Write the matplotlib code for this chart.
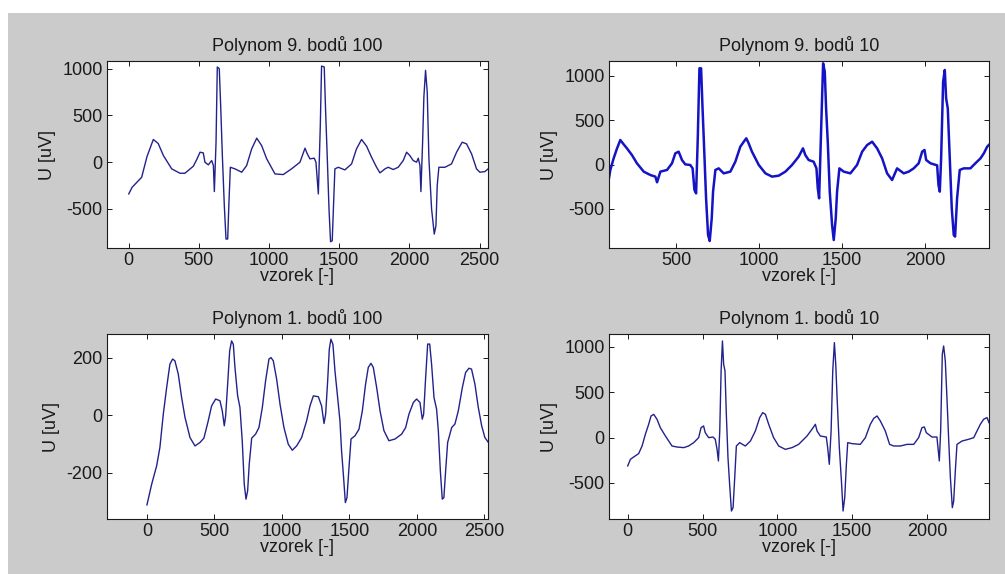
import matplotlib.pyplot as plt
from matplotlib.patches import Rectangle

plt.rcParams['font.family'] = ['Liberation Sans', 'DejaVu Sans']
plt.rcParams['axes.unicode_minus'] = False

# Polynom 9. bodů 100
x_p9_100 = [0, 24, 92, 130, 175, 210, 247, 306, 365, 400, 460, 485, 508, 531, 543, 567,
            591, 603, 610, 622, 631, 645, 655, 667, 681, 693, 705, 714, 724, 757, 805,
            840, 876, 912, 947, 983, 1042, 1101, 1160, 1220, 1256, 1272, 1291, 1322,
            1334, 1351, 1365, 1374, 1393, 1403, 1415, 1427, 1438, 1450, 1460, 1469, 1493,
            1540, 1588, 1623, 1659, 1695, 1730, 1766, 1790, 1826, 1849, 1885, 1920, 1956,
            1980, 2003, 2027, 2051, 2063, 2075, 2082, 2094, 2103, 2115, 2127, 2139, 2158,
            2177, 2189, 2198, 2210, 2253, 2300, 2336, 2376, 2407, 2443, 2478, 2502, 2538,
            2561]
u_p9_100 = [-339, -268, -161, 60, 243, 200, 71, -71, -118, -118, -43, 30, 107, 100, 0,
            -28, 18, -35, -314, 214, 1018, 1000, 607, 71, -464, -821, -821, -428, -54,
            -71, -107, -36, 143, 257, 178, 36, -125, -132, -71, 0, 150, 90, 36, 43, 0,
            -339, 393, 1028, 1018, 536, 36, -500, -850, -840, -428, -71, -54, -82, -18,
            143, 243, 171, 54, -54, -114, -71, -54, -78, -54, 18, 107, 71, 18, 0, 43,
            -36, -314, 214, 696, 982, 750, 36, -500, -768, -679, -250, -54, -54, -18, 107,
            214, 196, 89, -71, -107, -100, -71]

# Polynom 9. bodů 10
x_p9_10 = [95, 105, 125, 145, 165, 185, 205, 235, 265, 306, 346, 376, 386, 406, 446,
           476, 496, 516, 536, 556, 586, 600, 611, 621, 631, 641, 651, 659, 667, 681,
           693, 703, 715, 723, 737, 757, 787, 827, 857, 887, 911, 923, 937, 957, 998,
           1038, 1078, 1118, 1158, 1198, 1238, 1264, 1278, 1298, 1328, 1345, 1353, 1361,
           1371, 1385, 1395, 1403, 1413, 1425, 1439, 1449, 1461, 1469, 1483, 1509, 1549,
           1589, 1620, 1650, 1680, 1710, 1740, 1770, 1800, 1830, 1870, 1900, 1930, 1960,
           1981, 1995, 2005, 2031, 2071, 2079, 2087, 2095, 2107, 2117, 2125, 2135, 2147,
           2159, 2171, 2179, 2191, 2207, 2231, 2271, 2301, 2332, 2352, 2372, 2382]
u_p9_10 = [-174, -61, 70, 180, 276, 228, 182, 107, 14, -80, -118, -136, -200, -80, -61,
           14, 126, 145, 51, 2, -5, -43, -286, -324, 295, 1083, 1083, 670, 295, -380,
           -793, -860, -605, -305, -61, -43, -99, -80, 32, 201, 265, 295, 239, 145, -5,
           -99, -136, -125, -80, -5, 89, 182, 107, 51, 32, -43, -268, -380, 257, 1139,
           1045, 633, 257, -305, -680, -849, -605, -305, -43, -80, -99, -5, 145, 220,
           257, 182, 70, -99, -174, -43, -99, -80, -43, 14, 145, 164, 51, 14, -9, -230,
           -305, 70, 932, 1064, 745, 632, 70, -493, -793, -811, -380, -61, -43, -43, 14,
           70, 126, 201, 220]

# Polynom 1. bodů 100
x_p1_100 = [0, 35, 72, 96, 121, 146, 170, 190, 207, 232, 257, 282, 319, 356, 393, 422,
            454, 479, 509, 541, 558, 573, 583, 598, 613, 627, 640, 652, 672, 689, 706,
            721, 734, 746, 758, 776, 805, 830, 855, 879, 904, 919, 936, 961, 986, 1015,
            1047, 1077, 1109, 1146, 1183, 1208, 1233, 1270, 1294, 1312, 1324, 1339, 1351,
            1363, 1378, 1393, 1413, 1430, 1442, 1457, 1470, 1482, 1497, 1512, 1541, 1571,
            1596, 1620, 1640, 1660, 1677, 1702, 1727, 1756, 1793, 1838, 1887, 1917, 1941,
            1974, 1998, 2023, 2040, 2050, 2065, 2080, 2095, 2109, 2127, 2146, 2159, 2174,
            2188, 2200, 2213, 2228, 2258, 2282, 2307, 2337, 2361, 2386, 2405, 2430, 2455,
            2480, 2504, 2530]
u_p1_100 = [-312, -240, -176, -112, 3, 96, 177, 195, 189, 143, 61, -8, -78, -107, -95,
            -80, -20, 32, 56, 50, 15, -37, -3, 108, 224, 258, 246, 166, 67, 27, -89,
            -240, -292, -263, -170, -80, -66, -43, 27, 119, 195, 200, 189, 125, 38, -43,
            -101, -122, -107, -78, -20, 32, 67, 64, 32, -29, 3, 119, 229, 264, 246, 154,
            61, -20, -124, -217, -304, -287, -182, -83, -72, -49, 15, 108, 166, 180, 166,
            96, 15, -54, -89, -83, -66, -43, 3, 44, 56, 44, -14, 3, 131, 247, 247, 177,
            61, 21, -54, -194, -292, -287, -194, -95, -43, -31, 15, 96, 148, 163, 160,
            108, 27, -37, -78, -95]

# Polynom 1. bodů 10
x_p1_10 = [0, 18, 40, 73, 96, 118, 140, 156, 174, 196, 218, 252, 274, 296, 329, 374,
           407, 441, 474, 490, 507, 518, 541, 570, 585, 597, 606, 615, 624, 633, 641,
           650, 659, 670, 681, 693, 704, 715, 726, 748, 786, 820, 853, 882, 902, 920,
           942, 975, 1009, 1053, 1098, 1142, 1198, 1231, 1254, 1265, 1287, 1327, 1336,
           1347, 1359, 1370, 1381, 1390, 1399, 1414, 1428, 1439, 1450, 1461, 1470, 1499,
           1554, 1588, 1621, 1644, 1666, 1688, 1721, 1750, 1777, 1822, 1866, 1911, 1944,
           1966, 1982, 1995, 2033, 2066, 2073, 2082, 2091, 2102, 2111, 2122, 2133, 2145,
           2156, 2169, 2178, 2189, 2200, 2234, 2278, 2312, 2334, 2356, 2378, 2401, 2414]
u_p1_10 = [-312, -239, -213, -176, -92, 37, 147, 239, 257, 202, 110, 18, -37, -92, -103,
           -110, -92, -55, 0, 110, 129, 55, 0, 7, -18, -129, -257, 74, 735, 1066, 809,
           735, 257, -221, -515, -809, -772, -441, -92, -55, -92, -37, 74, 221, 276,
           257, 147, 0, -92, -129, -110, -74, 18, 92, 147, 74, 18, 7, -110, -294, 74,
           735, 1048, 809, 441, -110, -478, -809, -662, -294, -55, -66, -74, 0, 147, 213,
           239, 184, 74, -74, -92, -92, -74, -74, 0, 110, 118, 55, 7, 7, -110, -257, 74,
           919, 1011, 846, 441, -37, -441, -772, -699, -368, -74, -37, -18, 0, 74, 147,
           202, 221, 165]

W, H = 1005, 574
fig = plt.figure(figsize=(W / 100, H / 100), dpi=100, facecolor='white')
# matlab-like gray figure area
fig.patches.append(Rectangle((8 / W, 0), 1, (H - 13) / H, transform=fig.transFigure,
                             facecolor='#cbcbcb', edgecolor='none', zorder=-1))


def make_ax(l, r, t, b):
    return fig.add_axes([l / W, 1 - b / H, (r - l) / W, (b - t) / H])


panels = [
    (make_ax(107, 488, 61, 248), x_p9_100, u_p9_100, 'Polynom 9. bodů 100',
     (-155, 2560), (-917, 1082), range(0, 2501, 500), [-500, 0, 500, 1000], 1.0, '#22228c'),
    (make_ax(609, 989, 61, 248), x_p9_10, u_p9_10, 'Polynom 9. bodů 10',
     (97, 2383), (-939, 1165), range(500, 2001, 500), [-500, 0, 500, 1000], 1.8, '#1414c4'),
    (make_ax(107, 488, 334, 519), x_p1_100, u_p1_100, 'Polynom 1. bodů 100',
     (-296, 2527), (-361, 282), range(0, 2501, 500), [-200, 0, 200], 1.0, '#22228c'),
    (make_ax(609, 989, 334, 519), x_p1_10, u_p1_10, 'Polynom 1. bodů 10',
     (-125, 2414), (-897, 1143), range(0, 2001, 500), [-500, 0, 500, 1000], 1.0, '#22228c'),
]

for ax, xs, us, title, xl, yl, xt, yt, lw, col in panels:
    ax.plot(xs, us, color=col, linewidth=lw)
    ax.set_xlim(*xl)
    ax.set_ylim(*yl)
    ax.set_xticks(list(xt))
    ax.set_yticks(yt)
    ax.tick_params(direction='in', top=True, right=True, length=3.5, width=0.7,
                   labelsize=13, pad=3, colors='#1a1a1a')
    for s in ax.spines.values():
        s.set_linewidth(0.8)
        s.set_color('#1a1a1a')
    ax.set_title(title, fontsize=13, pad=7, color='#1a1a1a')
    ax.set_xlabel('vzorek [-]', fontsize=13, labelpad=-1, color='#1a1a1a')
    ax.set_ylabel('U [uV]', fontsize=13, labelpad=5, color='#1a1a1a')

plt.savefig('out.png', dpi=100, facecolor=fig.get_facecolor())
